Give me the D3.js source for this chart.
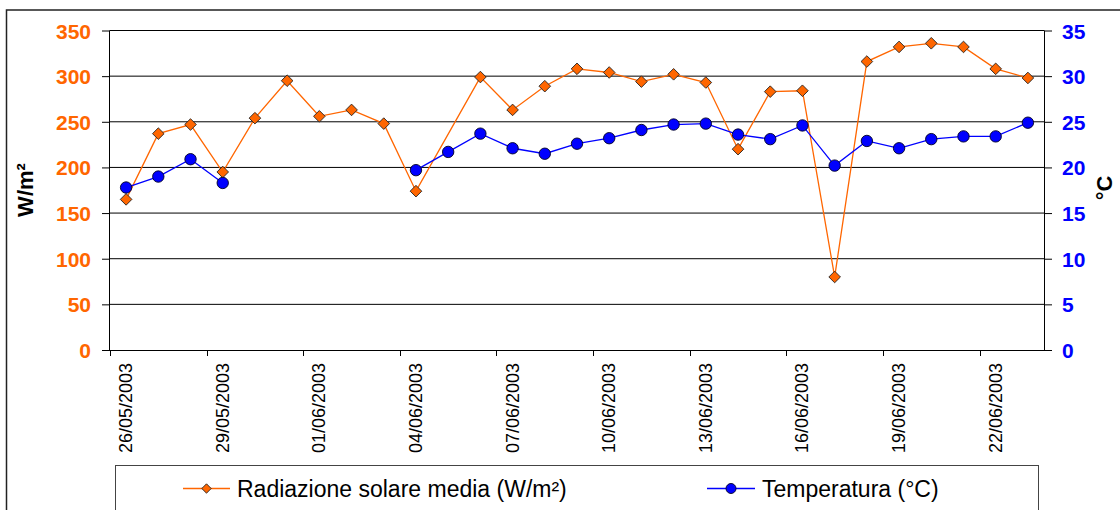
<!DOCTYPE html>
<html>
<head>
<meta charset="utf-8">
<script src="https://cdn.jsdelivr.net/npm/d3@7"></script>
<style>
  html, body { margin: 0; padding: 0; background: #fff; }
  svg { display: block; font-family: "Liberation Sans", Arial, sans-serif; }
</style>
</head>
<body>
<svg id="chart" width="1120" height="510"></svg>
<script>
// ---- data ----
const dates = [
  "26/05/2003","27/05/2003","28/05/2003","29/05/2003","30/05/2003","31/05/2003",
  "01/06/2003","02/06/2003","03/06/2003","04/06/2003","05/06/2003","06/06/2003",
  "07/06/2003","08/06/2003","09/06/2003","10/06/2003","11/06/2003","12/06/2003",
  "13/06/2003","14/06/2003","15/06/2003","16/06/2003","17/06/2003","18/06/2003",
  "19/06/2003","20/06/2003","21/06/2003","22/06/2003","23/06/2003"
];
const radiation = [165, 237, 247, 195, 254, 295, 256, 263, 248, 174, null, 299,
  263, 289, 308, 304, 294, 302, 293, 220, 283, 284, 80, 316, 332, 336, 332, 308, 298];
const temperature = [17.8, 19.0, 20.9, 18.3, null, null, null, null, null, 19.7, 21.7, 23.7,
  22.1, 21.5, 22.6, 23.2, 24.1, 24.7, 24.8, 23.6, 23.1, 24.6, 20.2, 22.9, 22.1, 23.1, 23.4, 23.4, 24.9];
const leftTicks = [0, 50, 100, 150, 200, 250, 300, 350];
const rightTicks = [0, 5, 10, 15, 20, 25, 30, 35];
const labelDates = dates.filter((d, i) => i % 3 === 0);
const seriesNames = ["Radiazione solare media (W/m²)", "Temperatura (°C)"];
const leftTitle = "W/m²";
const rightTitle = "°C";

// ---- layout ----
const svg = d3.select("#chart");
const L = 110, R = 1044, T = 30.5, B = 350;
const orange = "#FF6600", blue = "#0000FF";

const x = d3.scaleBand().domain(dates).range([L, R]).paddingInner(0).paddingOuter(0);
const cx = d => x(d) + x.bandwidth() / 2;
const yL = d3.scaleLinear().domain([0, 350]).range([B, T]);
const yR = d3.scaleLinear().domain([0, 35]).range([B, T]);

// outer border
svg.append("rect").attr("x", 6.5).attr("y", 10).attr("width", 1300).attr("height", 700)
  .attr("fill", "none").attr("stroke", "#222").attr("stroke-width", 1.5);

// gridlines
svg.append("g").selectAll("line").data(leftTicks.filter(v => v > 0)).join("line")
  .attr("x1", L).attr("x2", R).attr("y1", d => yL(d)).attr("y2", d => yL(d))
  .attr("stroke", "#000").attr("stroke-width", 1);

// left axis
const gL = svg.append("g").attr("transform", `translate(${L},0)`)
  .call(d3.axisLeft(yL).tickValues(leftTicks).tickSize(8).tickPadding(11));
gL.select(".domain").attr("stroke", "#000").attr("d", `M-0.5,${T}V${B}`);
gL.selectAll(".tick line").attr("stroke", "#000");
gL.selectAll(".tick text").attr("fill", orange).attr("font-size", 21).attr("font-weight", "bold")
  .attr("font-family", "'Liberation Sans', Arial, sans-serif").attr("dy", "0.36em");

// right axis
const gR = svg.append("g").attr("transform", `translate(${R},0)`)
  .call(d3.axisRight(yR).tickValues(rightTicks).tickSize(8).tickPadding(10));
gR.select(".domain").attr("stroke", "#000").attr("d", `M0.5,${T}V${B}`);
gR.selectAll(".tick line").attr("stroke", "#000");
gR.selectAll(".tick text").attr("fill", blue).attr("font-size", 21).attr("font-weight", "bold")
  .attr("font-family", "'Liberation Sans', Arial, sans-serif").attr("dy", "0.36em");

// bottom axis
const gB = svg.append("g").attr("transform", `translate(0,${B})`)
  .call(d3.axisBottom(x).tickValues(labelDates).tickSize(0).tickPadding(0));
gB.select(".domain").attr("stroke", "#000").attr("d", `M${L},0.5H${R}`);
gB.selectAll(".tick text")
  .attr("font-size", 18).attr("fill", "#000")
  .attr("font-family", "'Liberation Sans', Arial, sans-serif")
  .attr("text-anchor", "end").attr("transform", "rotate(-90)")
  .attr("x", -13).attr("y", 6).attr("dy", 0);
// tick marks at category boundaries
gB.append("g").selectAll("line").data(labelDates).join("line")
  .attr("x1", d => Math.round(x(d)) + 0.5).attr("x2", d => Math.round(x(d)) + 0.5)
  .attr("y1", 0).attr("y2", 6).attr("stroke", "#000");

// axis titles
svg.append("text").attr("transform", `translate(33,190) rotate(-90)`)
  .attr("text-anchor", "middle").attr("font-size", 22).attr("font-weight", "bold")
  .text(leftTitle);
svg.append("text").attr("transform", `translate(1112,188) rotate(-90)`)
  .attr("text-anchor", "middle").attr("font-size", 22).attr("font-weight", "bold")
  .text(rightTitle);

// series
const radData = dates.map((d, i) => ({ d, v: radiation[i] }));
const tempData = dates.map((d, i) => ({ d, v: temperature[i] }));

const radLine = d3.line().x(p => cx(p.d)).y(p => yL(p.v));
svg.append("path").datum(radData.filter(p => p.v != null))
  .attr("d", radLine).attr("fill", "none").attr("stroke", orange).attr("stroke-width", 1.3);

const tempLine = d3.line().defined(p => p.v != null).x(p => cx(p.d)).y(p => yR(p.v));
svg.append("path").datum(tempData)
  .attr("d", tempLine).attr("fill", "none").attr("stroke", blue).attr("stroke-width", 1.3);

const diamond = s => `M0,${-s}L${s},0L0,${s}L${-s},0Z`;
svg.append("g").selectAll("path").data(radData.filter(p => p.v != null)).join("path")
  .attr("transform", p => `translate(${cx(p.d)},${yL(p.v)})`)
  .attr("d", diamond(5.8)).attr("fill", orange).attr("stroke", "#222").attr("stroke-width", 0.9);

svg.append("g").selectAll("circle").data(tempData.filter(p => p.v != null)).join("circle")
  .attr("cx", p => cx(p.d)).attr("cy", p => yR(p.v)).attr("r", 5.7)
  .attr("fill", blue).attr("stroke", "#000022").attr("stroke-width", 0.9);

// legend
const lg = svg.append("g");
lg.append("rect").attr("x", 115.5).attr("y", 465.5).attr("width", 923).attr("height", 80)
  .attr("fill", "#fff").attr("stroke", "#444").attr("stroke-width", 1);
const ly = 488.5;
lg.append("line").attr("x1", 183).attr("x2", 230).attr("y1", ly).attr("y2", ly)
  .attr("stroke", orange).attr("stroke-width", 1.3);
lg.append("path").attr("transform", `translate(206.5,${ly})`).attr("d", diamond(4.7))
  .attr("fill", orange).attr("stroke", "#222").attr("stroke-width", 0.9);
lg.append("text").attr("x", 237).attr("y", 496.5).attr("font-size", 23).text(seriesNames[0]);
lg.append("line").attr("x1", 707).attr("x2", 755).attr("y1", ly).attr("y2", ly)
  .attr("stroke", blue).attr("stroke-width", 1.3);
lg.append("circle").attr("cx", 731).attr("cy", ly).attr("r", 5)
  .attr("fill", blue).attr("stroke", "#000022").attr("stroke-width", 0.9);
lg.append("text").attr("x", 762).attr("y", 496.5).attr("font-size", 23).text(seriesNames[1]);
</script>
</body>
</html>
